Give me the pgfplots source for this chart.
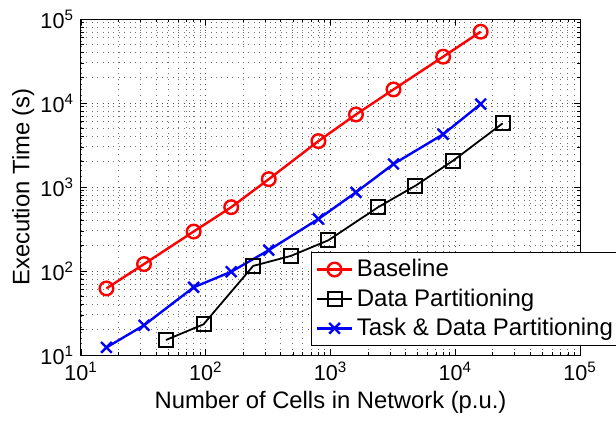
\documentclass[border=0pt]{standalone}
\usepackage{fontspec}
\setmainfont{Liberation Sans}
\usepackage{pgfplots}
\pgfplotsset{compat=1.18}
\begin{document}
\begin{tikzpicture}
\useasboundingbox (-40.5pt,-32.5pt) rectangle (267.5pt,177.5pt);
\begin{axis}[
  at={(0,0)}, anchor=south west,
  scale only axis,
  width=249.5pt, height=168pt,
  xmode=log, ymode=log,
  xmin=10, xmax=1e5, ymin=10, ymax=1e5,
  log number format basis/.code 2 args={#1\textsuperscript{\pgfmathprintnumber[int detect,assume math mode=true]{#2}}},
  tick label style={font=\fontsize{10.8}{12}\selectfont},
  label style={font=\fontsize{11.9}{14}\selectfont},
  xlabel style={at={(axis description cs:0.5,-0.158)}, anchor=base},
  ylabel style={at={(axis description cs:-0.116,0.5)}, anchor=center},
  grid=both,
  major grid style={dash pattern=on 0.5pt off 2.2pt, black!70, line width=0.45pt},
  minor grid style={dash pattern=on 0.5pt off 2.2pt, black!55, line width=0.45pt},
  major tick length=3pt, minor tick length=1.6pt,
  axis line style={line width=0.5pt},
  every tick/.style={black, line width=0.4pt},
  xlabel={Number of Cells in Network (p.u.)},
  ylabel={Execution Time (s)},
  legend style={at={(0.4605,0.0268)}, anchor=south west, draw=black,
    line width=0.5pt, font=\fontsize{12}{15.5}\selectfont,
    row sep=0.5pt, inner xsep=2.5pt, inner ysep=1.5pt},
  legend cell align=left,
]
\addplot[red, line width=1.2pt, mark=o, mark size=3.4pt] coordinates {
(16,62) (32,121) (80,295) (160,575) (320,1240) (800,3520) (1600,7300) (3200,14500) (8000,35600) (16000,70600)};
\addlegendentry{Baseline}
\addplot[black, line width=0.9pt, mark=square, mark size=3.5pt, mark options={line width=1pt}] coordinates {
(48,15.1) (96,23.2) (240,115) (480,151) (960,232) (2400,573) (4800,1037) (9600,2056) (24000,5730)};
\addlegendentry{Data Partitioning}
\addplot[blue, line width=1.2pt, mark=x, mark size=3.8pt] coordinates {
(16,12.3) (32,22.6) (80,64) (160,98) (320,177) (800,416) (1600,865) (3200,1880) (8000,4240) (16000,9720)};
\addlegendentry{Task \& Data Partitioning}
\end{axis}
\end{tikzpicture}
\end{document}
